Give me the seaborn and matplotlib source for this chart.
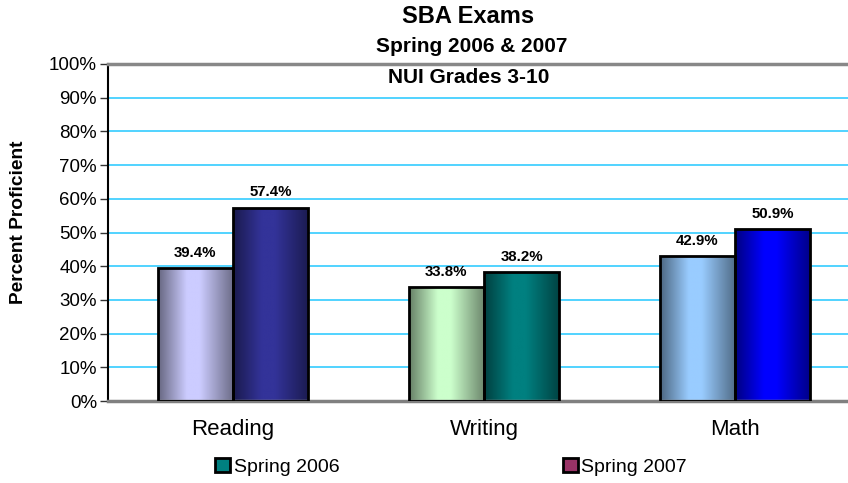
import numpy as np
import pandas as pd
import matplotlib
matplotlib.use("Agg")
import matplotlib.pyplot as plt
import seaborn as sns
from matplotlib.colors import to_rgb
from matplotlib.patches import Patch
from matplotlib.ticker import FuncFormatter

# data
subjects = ["Reading", "Writing", "Math"]
terms = ["Spring 2006", "Spring 2007"]
spring_2006 = [39.4, 33.8, 42.9]
spring_2007 = [57.4, 38.2, 50.9]

# per-bar gradient colours (light centre, dark edge), ordered left to right
bar_centre = ["#CCCCFF", "#333399", "#CCFFCC", "#008080", "#99CCFF", "#0000FF"]
bar_edge = ["#666680", "#1A1A4D", "#667F66", "#003F3F", "#4C6680", "#000080"]
legend_colors = ["#008080", "#993366"]

df = pd.DataFrame({
    "subject": subjects * 2,
    "term": [terms[0]] * 3 + [terms[1]] * 3,
    "pct": spring_2006 + spring_2007,
})

sns.set_style("white")
plt.rcParams["font.family"] = ["Liberation Sans", "DejaVu Sans"]
plt.rcParams["text.color"] = "black"
plt.rcParams["axes.labelcolor"] = "black"
plt.rcParams["xtick.color"] = "black"
plt.rcParams["ytick.color"] = "black"

fig = plt.figure(figsize=(8.48, 4.83), dpi=100)
ax = fig.add_axes([108 / 848, 82 / 483, 740 / 848, 337 / 483])

sns.barplot(data=df, x="subject", y="pct", hue="term", order=subjects,
            hue_order=terms, width=0.6, legend=False, ax=ax,
            edgecolor="black", linewidth=2, saturation=1)

# gradient fill on each bar
profile_x = [0.0, 0.38, 0.55, 1.0]
profile_y = [0.0, 1.0, 1.0, 0.05]
t = np.interp(np.linspace(0, 1, 200), profile_x, profile_y)
patches = sorted(ax.patches, key=lambda p: p.get_x())
values = []
for i in range(3):
    values += [spring_2006[i], spring_2007[i]]
for p, c1, c0, v in zip(patches, bar_centre, bar_edge, values):
    lo, hi = np.array(to_rgb(c0)), np.array(to_rgb(c1))
    grad = lo[None, :] + t[:, None] * (hi - lo)[None, :]
    x0, w, h = p.get_x(), p.get_width(), p.get_height()
    im = ax.imshow(grad[None, :, :], extent=[x0, x0 + w, 0, h], aspect="auto",
                   zorder=2, interpolation="bilinear")
    im.set_clip_path(p)
    p.set_facecolor("none")
    p.set_zorder(3)
    ax.annotate(f"{v:.1f}%", (x0 + w / 2, h), xytext=(0, 6),
                textcoords="offset points", ha="center", va="bottom",
                fontsize=10.8, fontweight="bold")
ax.set_aspect("auto")
ax.set_xlim(-0.498, 2.45)
ax.set_ylim(0, 100)

ax.set_yticks(np.arange(0, 101, 10))
ax.yaxis.set_major_formatter(FuncFormatter(lambda y, _: f"{y:.0f}%"))
ax.yaxis.grid(True, color="#33CCFF", linewidth=1.2)
ax.set_axisbelow(True)
ax.tick_params(axis="y", labelsize=13.5, length=6, width=1, color="#333333",
               direction="out", left=True, pad=2)
ax.tick_params(axis="x", labelsize=16, length=0, pad=13)
ax.set_xlabel("")
ax.set_ylabel("Percent Proficient", fontsize=13.8, fontweight="bold")
ax.yaxis.set_label_coords(-0.109, 0.531)

ax.spines["left"].set_color("black")
ax.spines["left"].set_linewidth(1.5)
ax.spines["bottom"].set_color("#808080")
ax.spines["bottom"].set_linewidth(2.5)
ax.spines["top"].set_color("#888888")
ax.spines["top"].set_linewidth(2.5)
ax.spines["right"].set_visible(False)

fig.text(0.552, 0.965, "SBA Exams", ha="center", va="center",
         fontsize=17, fontweight="bold")
fig.text(0.556, 0.903, "Spring 2006 & 2007", ha="center", va="center",
         fontsize=15, fontweight="bold")
fig.text(0.553, 0.839, "NUI Grades 3-10", ha="center", va="center",
         fontsize=15, fontweight="bold")

handles = [Patch(facecolor=c, edgecolor="black", linewidth=2) for c in legend_colors]
fig.legend(handles, terms, loc="center", bbox_to_anchor=(0.532, 0.033),
           ncol=2, frameon=False, fontsize=14, handlelength=0.75,
           handleheight=0.75, handletextpad=0.2, columnspacing=11.5)

fig.savefig("out.png", dpi=100)
